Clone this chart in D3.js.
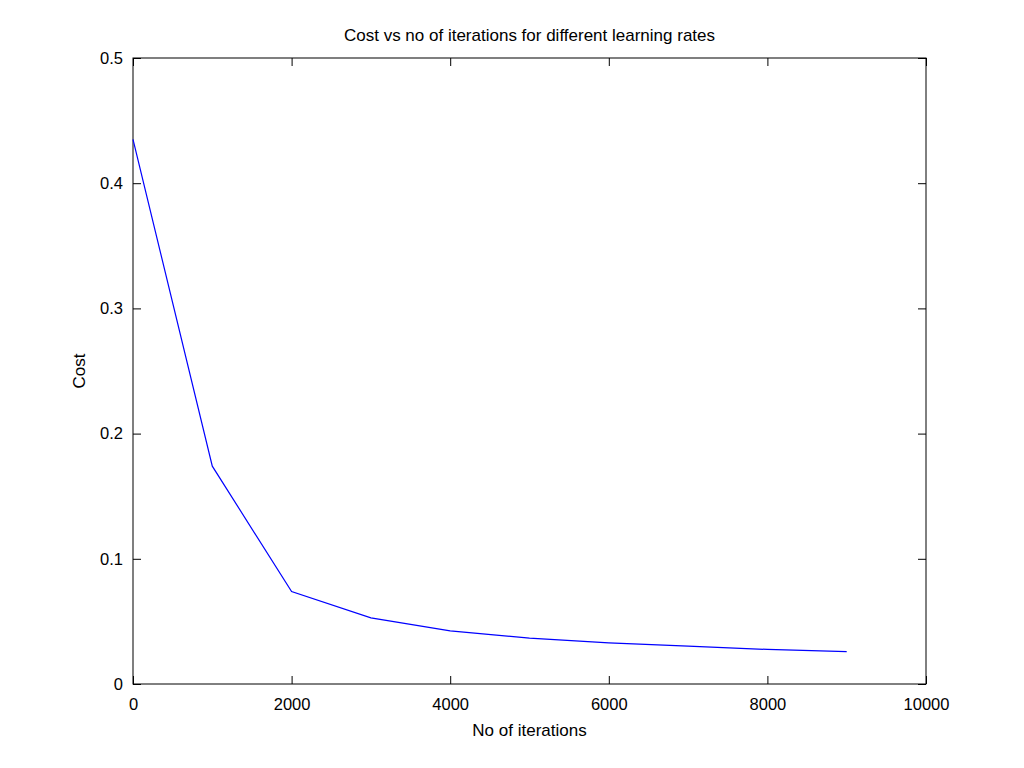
<!DOCTYPE html>
<html><head><meta charset="utf-8">
<script src="https://cdn.jsdelivr.net/npm/d3@7"></script>
<style>body{margin:0;background:#fff}svg{display:block}text{font-family:"Liberation Sans",Arial,sans-serif}</style>
</head><body><svg id="c" width="1024" height="768"></svg>
<script>
const iterations = [0,1000,2000,3000,4000,5000,6000,7000,8000,9000];
const cost = [0.435,0.174,0.0738,0.0528,0.0424,0.0366,0.0328,0.0303,0.0276,0.0258];
const xTicks = [0,2000,4000,6000,8000,10000];
const yTicks = [0,0.1,0.2,0.3,0.4,0.5];
const title = "Cost vs no of iterations for different learning rates";
const xLabel = "No of iterations";
const yLabel = "Cost";

const svg = d3.select("#c");
const L=133,R=926,T=58,B=684;
const x = d3.scaleLinear().domain([0,10000]).range([L,R]);
const y = d3.scaleLinear().domain([0,0.5]).range([B,T]);
const fs=16.5;
const g = svg.append("g");
const fmtY = d => d===0 ? "0" : d3.format(".1f")(d);

const ax = (axis, tr) => { const a=g.append("g").attr("transform",tr).call(axis);
  a.select(".domain").remove(); a.selectAll("line").attr("stroke","#000");
  a.selectAll("text").attr("font-size",fs).attr("fill","#000"); return a; };
ax(d3.axisBottom(x).tickValues(xTicks).tickSize(-8).tickPadding(14).tickFormat(d3.format("d")), `translate(0,${B})`);
ax(d3.axisTop(x).tickValues(xTicks).tickSize(-8).tickFormat(""), `translate(0,${T})`);
ax(d3.axisLeft(y).tickValues(yTicks).tickSize(-8).tickPadding(10).tickFormat(fmtY), `translate(${L},0)`);
ax(d3.axisRight(y).tickValues(yTicks).tickSize(-8).tickFormat(""), `translate(${R},0)`);

g.append("rect").attr("x",L).attr("y",T).attr("width",R-L).attr("height",B-T)
 .attr("fill","none").attr("stroke","#000").attr("stroke-width",1);

g.append("path").datum(iterations.map((d,i)=>[d,cost[i]]))
 .attr("fill","none").attr("stroke","#0000ff").attr("stroke-width",1.2)
 .attr("d", d3.line().x(d=>x(d[0])).y(d=>y(d[1])));

svg.append("text").attr("x",(L+R)/2).attr("y",41).attr("text-anchor","middle").attr("font-size",17).text(title);
svg.append("text").attr("x",(L+R)/2).attr("y",736).attr("text-anchor","middle").attr("font-size",17).text(xLabel);
svg.append("text").attr("transform",`translate(85,${(T+B)/2}) rotate(-90)`).attr("text-anchor","middle").attr("font-size",17).text(yLabel);
</script></body></html>
